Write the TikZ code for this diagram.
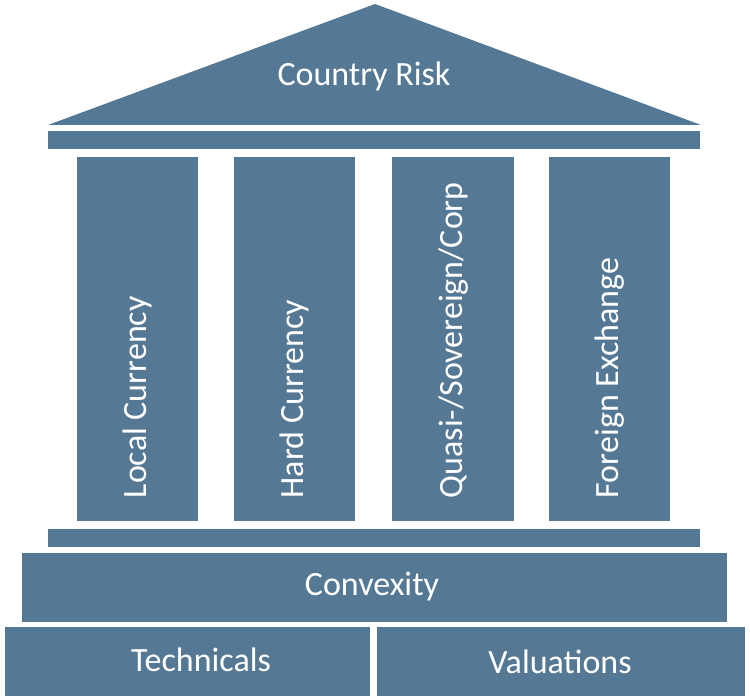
\documentclass[tikz,border=0pt]{standalone}
\usepackage{fontspec}
\setmainfont{Carlito}
\definecolor{slate}{RGB}{85,120,149}
\begin{document}
\begin{tikzpicture}[x=1pt,y=-1pt,
  block/.style={fill=slate,draw=none,inner sep=0pt,anchor=north west,text=white,
     font=\fontsize{34}{40}\selectfont},
  lbl/.style={text=white,inner sep=0pt,font=\fontsize{34}{40}\selectfont}]
\useasboundingbox (0,0) rectangle (750,700);
% roof
\fill[slate] (48,125) -- (375,4) -- (701,125) -- cycle;
\node[lbl] (roof) at (364,76) {Country Risk};
% entablature
\node[block,minimum width=652pt,minimum height=18pt] (top) at (48,131) {};
% columns
\node[block,minimum width=121pt,minimum height=364pt] (c1) at (77,157) {};
\node[block,minimum width=121pt,minimum height=364pt] (c2) at (234,157) {};
\node[block,minimum width=122pt,minimum height=364pt] (c3) at (392,157) {};
\node[block,minimum width=121pt,minimum height=364pt] (c4) at (549,157) {};
\node[lbl,rotate=90,anchor=west] (t1) at ([yshift=23pt]c1.south) {Local Currency};
\node[lbl,rotate=90,anchor=west] (t2) at ([yshift=23pt]c2.south) {Hard Currency};
\node[lbl,rotate=90,anchor=west] (t3) at ([yshift=23pt]c3.south) {Quasi-/Sovereign/Corp};
\node[lbl,rotate=90,anchor=west] (t4) at ([yshift=23pt]c4.south) {Foreign Exchange};
% base bar
\node[block,minimum width=652pt,minimum height=18pt] (base) at (48,529) {};
% convexity
\node[block,minimum width=705pt,minimum height=69pt] (conv) at (22,553) {};
\node[lbl] (convt) at (372,587) {Convexity};
% foundations
\node[block,minimum width=365pt,minimum height=69pt] (tech) at (5,627) {};
\node[lbl] (techt) at (201,660) {Technicals};
\node[block,minimum width=368pt,minimum height=69pt] (val) at (377,627) {};
\node[lbl] (valt) at (560,662) {Valuations};
\end{tikzpicture}
\end{document}
